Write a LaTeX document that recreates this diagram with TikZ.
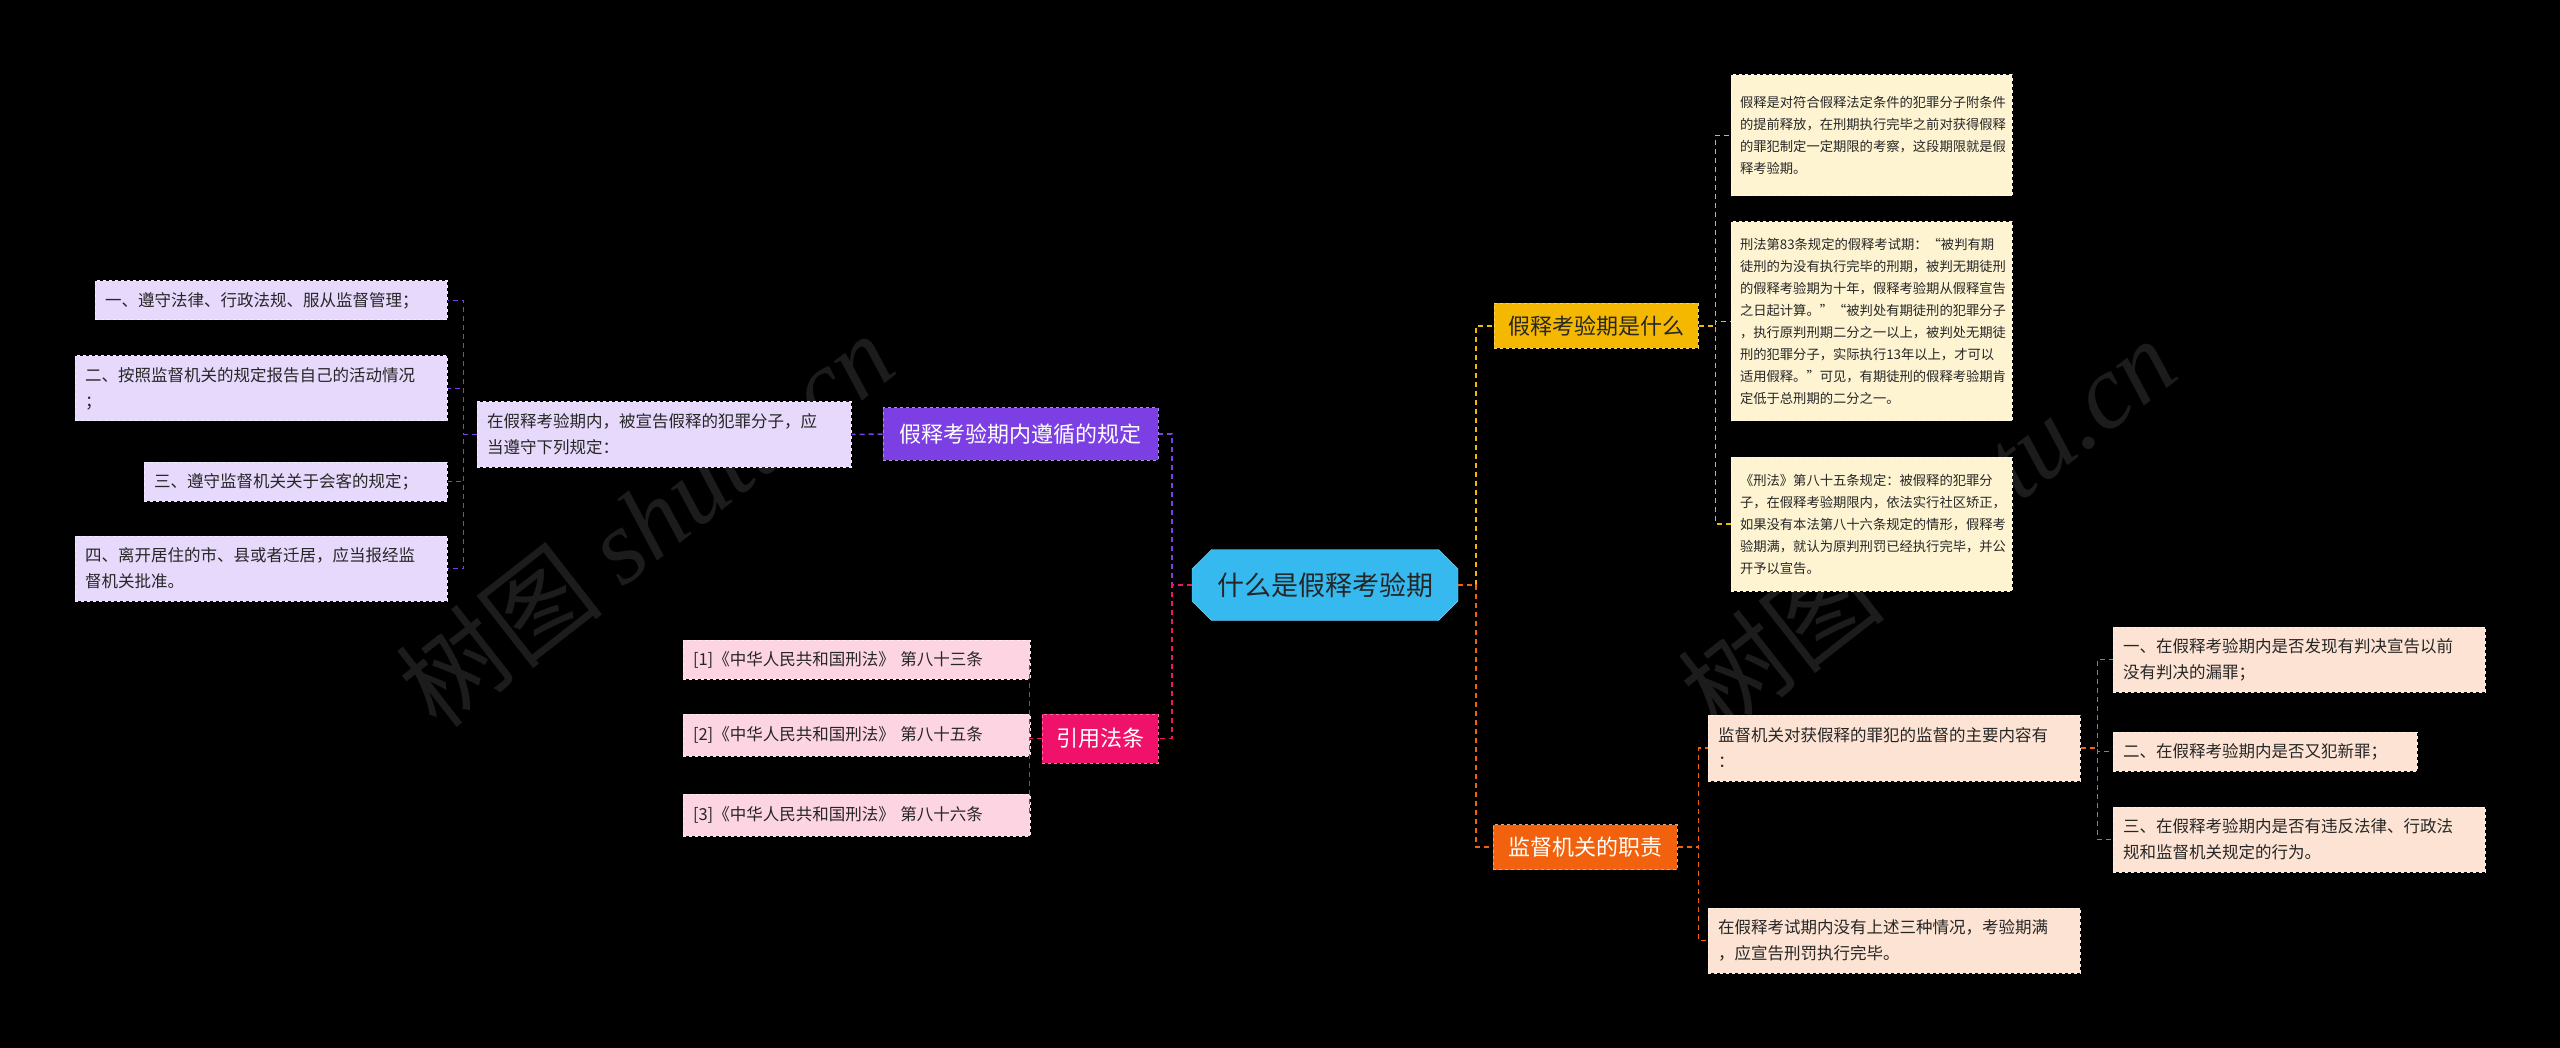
\documentclass[tikz,border=0pt]{standalone}
\usepackage{fontspec}
\setmainfont{Noto Sans CJK SC}
\newfontfamily\wmserif{Liberation Serif}
\usetikzlibrary{shapes.misc}
\definecolor{cC}{HTML}{35B9EF}
\definecolor{cY}{HTML}{F5B800}
\definecolor{cYl}{HTML}{FEF4D2}
\definecolor{cO}{HTML}{F2620E}
\definecolor{cOl}{HTML}{FDE3D3}
\definecolor{cP}{HTML}{7B3FE4}
\definecolor{cPl}{HTML}{E6D9FB}
\definecolor{cK}{HTML}{F0116B}
\definecolor{cKl}{HTML}{FCD4E2}
\tikzset{
 leaf/.style={draw=white!55!#1, dashed, line width=1pt, fill=#1, inner sep=10pt, align=left, font=\fontsize{16.5}{26}\selectfont, text=black!85},
 cream/.style={leaf=cYl, font=\fontsize{13.3}{22}\selectfont},
 br/.style={draw=white!40!#1, dashed, line width=1pt, fill=#1, inner sep=6pt, font=\fontsize{22}{26}\selectfont},
 con/.style={draw=#1, dashed, line width=1.5pt, dash pattern=on 5pt off 4pt},
 wm/.style={rotate=38, text=white!11!black, font=\fontsize{105}{105}\selectfont},
}
\begin{document}
\begin{tikzpicture}[x=1pt,y=-1pt]
\fill[black] (0,0) rectangle (2560,1048);
\useasboundingbox (0,0) rectangle (2560,1048);
% watermarks
\node[wm] (w1) at (645,520) {树图 {\wmserif\itshape shutu.cn}};
\node[wm] (w2) at (1927,525) {树图 {\wmserif\itshape shutu.cn}};

% center
\node[chamfered rectangle, chamfered rectangle xsep=16pt, fill=cC, draw=white!40!cC, minimum width=266pt, minimum height=71pt, font=\fontsize{27}{30}\selectfont, text=black!85] (C) at (1325,585) {什么是假释考验期};

% branches
\node[br=cY, minimum width=204pt, minimum height=45pt, text=black!85] (R1) at (1596,326) {假释考验期是什么};
\node[br=cO, minimum width=184pt, minimum height=45pt, text=white] (R2) at (1585,847) {监督机关的职责};
\node[br=cP, minimum width=275pt, minimum height=52pt, text=white] (L1) at (1020.5,434) {假释考验期内遵循的规定};
\node[br=cK, minimum width=116pt, minimum height=49pt, text=white] (L2) at (1100,738.5) {引用法条};

% R1 leaves
\node[cream, minimum width=281pt, minimum height=121pt, text width=263pt, inner sep=9pt] (Y1) at (1871.5,135.5) {假释是对符合假释法定条件的犯罪分子附条件\\的提前释放，在刑期执行完毕之前对获得假释\\的罪犯制定一定期限的考察，这段期限就是假\\释考验期。};
\node[cream, minimum width=281pt, minimum height=199pt, text width=263pt, inner sep=9pt] (Y2) at (1871.5,321.5) {刑法第83条规定的假释考试期：“被判有期\\徒刑的为没有执行完毕的刑期，被判无期徒刑\\的假释考验期为十年，假释考验期从假释宣告\\之日起计算。”“被判处有期徒刑的犯罪分子\\，执行原判刑期二分之一以上，被判处无期徒\\刑的犯罪分子，实际执行13年以上，才可以\\适用假释。”可见，有期徒刑的假释考验期肯\\定低于总刑期的二分之一。};
\node[cream, minimum width=281pt, minimum height=134pt, text width=263pt, inner sep=9pt] (Y3) at (1871.5,524) {《刑法》第八十五条规定：被假释的犯罪分\\子，在假释考验期限内，依法实行社区矫正，\\如果没有本法第八十六条规定的情形，假释考\\验期满，就认为原判刑罚已经执行完毕，并公\\开予以宣告。};

% R2 leaves
\node[leaf=cOl, minimum width=372pt, minimum height=66pt, text width=352pt] (PA) at (1894,748) {监督机关对获假释的罪犯的监督的主要内容有\\：};
\node[leaf=cOl, minimum width=372pt, minimum height=65pt, text width=352pt] (PB) at (1894,940.5) {在假释考试期内没有上述三种情况，考验期满\\，应宣告刑罚执行完毕。};
\node[leaf=cOl, minimum width=372pt, minimum height=65pt, text width=352pt] (G1) at (2299,659.5) {一、在假释考验期内是否发现有判决宣告以前\\没有判决的漏罪；};
\node[leaf=cOl, minimum width=304pt, minimum height=39pt, text width=284pt] (G2) at (2265,751.5) {二、在假释考验期内是否又犯新罪；};
\node[leaf=cOl, minimum width=372pt, minimum height=65pt, text width=352pt] (G3) at (2299,839.5) {三、在假释考验期内是否有违反法律、行政法\\规和监督机关规定的行为。};

% L1 leaves
\node[leaf=cPl, minimum width=374pt, minimum height=65pt, text width=354pt] (LC) at (664,434.5) {在假释考验期内，被宣告假释的犯罪分子，应\\当遵守下列规定：};
\node[leaf=cPl, minimum width=352pt, minimum height=39pt, text width=332pt] (LG1) at (271,300.5) {一、遵守法律、行政法规、服从监督管理；};
\node[leaf=cPl, minimum width=372pt, minimum height=65pt, text width=352pt] (LG2) at (261,388.5) {二、按照监督机关的规定报告自己的活动情况\\；};
\node[leaf=cPl, minimum width=303pt, minimum height=39pt, text width=283pt] (LG3) at (295.5,481.5) {三、遵守监督机关关于会客的规定；};
\node[leaf=cPl, minimum width=372pt, minimum height=65pt, text width=352pt] (LG4) at (261,568.5) {四、离开居住的市、县或者迁居，应当报经监\\督机关批准。};

% L2 leaves
\node[leaf=cKl, minimum width=347pt, minimum height=39pt, text width=327pt] (K1) at (856.5,659.5) {[1]《中华人民共和国刑法》 第八十三条};
\node[leaf=cKl, minimum width=347pt, minimum height=42pt, text width=327pt] (K2) at (856.5,735) {[2]《中华人民共和国刑法》 第八十五条};
\node[leaf=cKl, minimum width=347pt, minimum height=42pt, text width=327pt] (K3) at (856.5,815) {[3]《中华人民共和国刑法》 第八十六条};

% connectors
\draw[con=cY] (C.east) -- ++(18,0) |- (R1.west);
\draw[con=cO] (C.east) -- ++(18,0) |- (R2.west);
\draw[con=cP] (C.west) -- ++(-20,0) |- (L1.east);
\draw[con=cK] (C.west) -- ++(-20,0) |- (L2.east);
\foreach \n in {Y1,Y2,Y3} \draw[con=cY] (R1.east) -- ++(17,0) |- (\n.west);
\foreach \n in {PA,PB} \draw[con=cO] (R2.east) -- ++(21,0) |- (\n.west);
\foreach \n in {G1,G2,G3} \draw[con=cO] (PA.east) -- ++(17,0) |- (\n.west);
\draw[con=cP] (L1.west) -- (LC.east);
\foreach \n in {LG1,LG2,LG3,LG4} \draw[con=cP] (LC.west) -- ++(-13,0) |- (\n.east);
\foreach \n in {K1,K2,K3} \draw[con=cK] (L2.west) -- ++(-12,0) |- (\n.east);
\end{tikzpicture}
\end{document}
